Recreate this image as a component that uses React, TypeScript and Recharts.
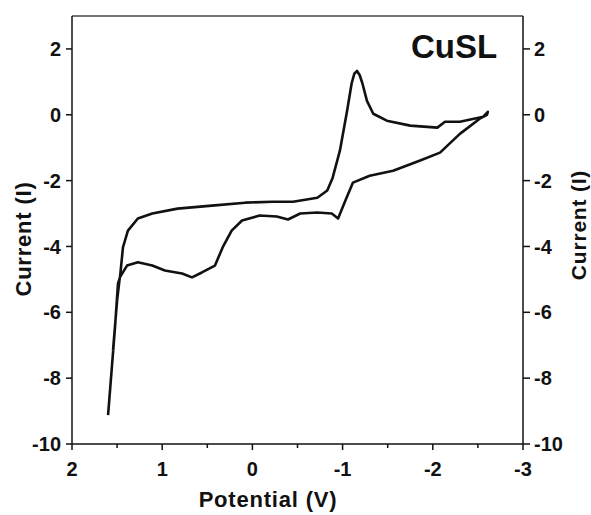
import { LineChart, Line, XAxis, YAxis, ReferenceLine, Label } from "recharts"

// cyclic voltammogram: upper branch first, then back along the lower one
const potential = [
    1.6, 1.523, 1.49, 1.468, 1.435, 1.38, 1.27, 1.11, 0.83, 0.45, 0.08, -0.22, -0.45, -0.72, -0.83, -0.89,
    -0.97, -1.05, -1.1, -1.13, -1.16, -1.19, -1.22, -1.27, -1.34, -1.49, -1.75, -2.05, -2.135, -2.3, -2.56, -2.61,
    -2.6, -2.52, -2.3, -2.08, -1.86, -1.56, -1.3, -1.115, -1.03, -0.95, -0.88, -0.72, -0.53, -0.395, -0.27,
    -0.08, 0.115, 0.23, 0.33, 0.415, 0.56, 0.67, 0.78, 0.97, 1.11, 1.27, 1.39, 1.47, 1.5, 1.545,
]
const current = [
    -9.12, -6.45, -5.12, -4.94, -4.03, -3.52, -3.15, -3.0, -2.85, -2.76, -2.67, -2.64, -2.64, -2.52, -2.3, -1.91,
    -1.09, 0.12, 0.95, 1.25, 1.33, 1.2, 0.95, 0.42, 0.03, -0.18, -0.33, -0.39, -0.21, -0.21, -0.06, 0.09,
    0.0, -0.12, -0.58, -1.15, -1.39, -1.7, -1.85, -2.06, -2.61, -3.15, -3.0, -2.97, -3.0, -3.18, -3.09,
    -3.06, -3.21, -3.52, -4.03, -4.58, -4.79, -4.94, -4.82, -4.73, -4.58, -4.48, -4.58, -4.94, -5.64, -7.15,
]

const xTicks = [2, 1.5, 1, 0.5, 0, -0.5, -1, -1.5, -2, -2.5, -3]
const yTicks = [-10, -8, -6, -4, -2, 0, 2]

const data = potential.map((v, i) => ({ v, i: current[i] }))

const font = "'Liberation Sans', Arial, sans-serif"
const ink = "#111"

const XTick = (props: any) => {
    const { x, y, payload } = props
    const major = Number.isInteger(payload.value)
    return (
        <g>
            <line x1={x} x2={x} y1={y} y2={y + (major ? 6 : 4)} stroke={ink} strokeWidth={1.5} />
            {major && (
                <text x={x} y={y + 32} textAnchor="middle" fontFamily={font} fontWeight="bold" fontSize={20} fill={ink}>
                    {payload.value}
                </text>
            )}
        </g>
    )
}

const tickStyle = { fontFamily: font, fontWeight: "bold", fontSize: 20, fill: ink }

export default function App() {
    return (
        <div style={{ position: "absolute", left: 0, top: 0, width: 591, height: 515, background: "#fff" }}>
            <LineChart width={591} height={515} data={data} margin={{ top: 16, right: 0, bottom: 0, left: 0 }}>
                <XAxis
                    type="number"
                    dataKey="v"
                    domain={[-3, 2]}
                    reversed
                    ticks={xTicks}
                    interval={0}
                    height={71}
                    tickSize={0}
                    tickMargin={0}
                    tickLine={false}
                    tick={<XTick />}
                    axisLine={{ stroke: ink, strokeWidth: 1.5 }}
                >
                    <Label
                        content={() => (
                            <g fontFamily={font} fontWeight="bold" fill={ink}>
                                <text x={268} y={507} textAnchor="middle" fontSize={22} letterSpacing={0.8}>
                                    Potential (V)
                                </text>
                                <text x={23} y={239} transform="rotate(-90 23 239)" textAnchor="middle" dominantBaseline="central" fontSize={22} letterSpacing={0.8}>
                                    Current (I)
                                </text>
                                <text x={578} y={225} transform="rotate(-90 578 225)" textAnchor="middle" dominantBaseline="central" fontSize={21} letterSpacing={0.8}>
                                    Current (I)
                                </text>
                                <text x={454} y={58} textAnchor="middle" fontSize={33}>
                                    CuSL
                                </text>
                            </g>
                        )}
                    />
                </XAxis>
                <YAxis
                    yAxisId="left"
                    type="number"
                    domain={[-10, 3]}
                    ticks={yTicks}
                    interval={0}
                    width={72}
                    tickSize={6}
                    tickMargin={5}
                    tick={tickStyle}
                    tickLine={{ stroke: ink, strokeWidth: 1.5 }}
                    axisLine={{ stroke: ink, strokeWidth: 1.5 }}
                />
                <YAxis
                    yAxisId="right"
                    orientation="right"
                    type="number"
                    domain={[-10, 3]}
                    ticks={yTicks}
                    interval={0}
                    width={68}
                    tickSize={7}
                    tickMargin={4}
                    tick={tickStyle}
                    tickLine={{ stroke: ink, strokeWidth: 1.5 }}
                    axisLine={{ stroke: ink, strokeWidth: 1.5 }}
                />
                <ReferenceLine yAxisId="left" y={3} stroke="#444" strokeWidth={1.5} />
                <Line yAxisId="right" dataKey="i" type="linear" stroke="none" dot={false} isAnimationActive={false} />
                <Line
                    yAxisId="left"
                    dataKey="i"
                    type="linear"
                    stroke={ink}
                    strokeWidth={2.6}
                    strokeLinejoin="round"
                    dot={false}
                    isAnimationActive={false}
                />
            </LineChart>
        </div>
    )
}
